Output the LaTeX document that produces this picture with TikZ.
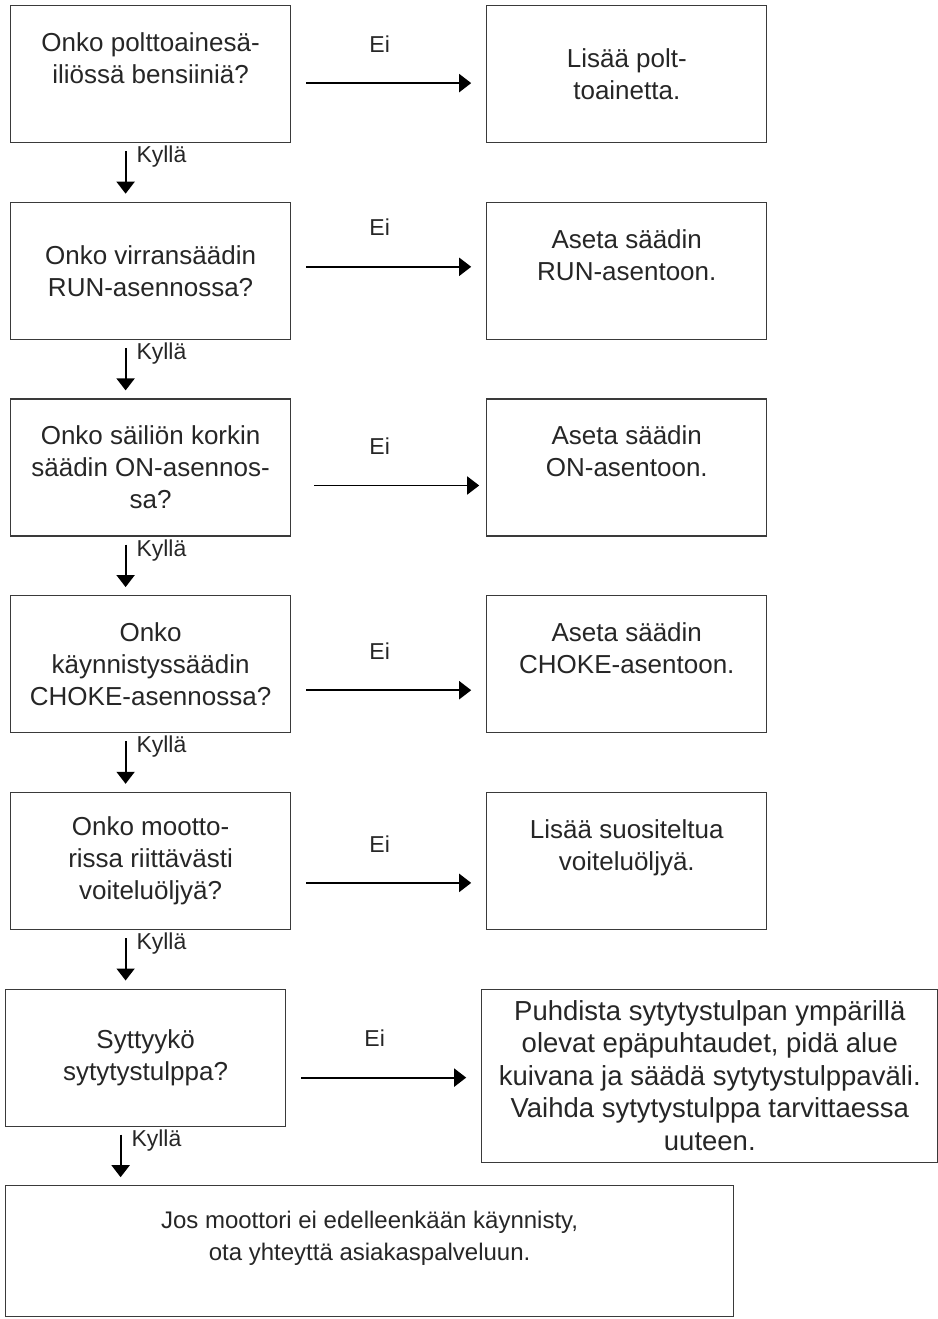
\documentclass[tikz,border=0pt]{standalone}
\usepackage{fontspec}
\setmainfont{Liberation Sans}
\usetikzlibrary{
  arrows.meta,
  positioning
}
\definecolor{FlowLine}{HTML}{3A3A3A}
\definecolor{FlowText}{HTML}{262626}

\begin{document}
\begin{tikzpicture}[
  x=1pt,y=1pt,
  node distance=58.5pt and 195pt,
  every node/.style={text=FlowText},
  box/.style={draw=FlowLine,line width=1.2pt,align=center,
    minimum width=280pt,minimum height=137pt,inner sep=0pt,
    font=\fontsize{26}{32}\selectfont},
  ask/.style={box},
  fix/.style={box},
  arrow/.style={-{Triangle[length=12pt,width=18pt]},line width=1.8pt,
    color=black},
  eilabel/.style={midway,above=28pt,xshift=-9pt,inner sep=2pt,
    font=\fontsize{23}{26}\selectfont},
  yeslabel/.style={at start,anchor=north west,inner sep=2pt,xshift=8pt,
    font=\fontsize{23}{26}\selectfont}
]
\useasboundingbox (0,0) rectangle (937,-1319);

\node[ask,anchor=north west] (q1) at (10,-5)
  {Onko polttoainesä-\\iliössä bensiiniä?\\\mbox{}};
\node[ask,below=of q1] (q2) {Onko virransäädin\\RUN-asennossa?};
\node[ask,below=of q2] (q3) {Onko säiliön korkin\\säädin ON-asennos-\\sa?};
\node[ask,below=of q3] (q4) {Onko\\käynnistyssäädin\\CHOKE-asennossa?};
\node[ask,below=of q4] (q5) {Onko mootto-\\rissa riittävästi\\voiteluöljyä?};
\node[ask,below=of q5,xshift=-5pt] (q6) {Syttyykö\\sytytystulppa?};
\node[box,below=of q6.south west,anchor=north west,minimum width=728pt,
  minimum height=131pt,font=\fontsize{24}{32}\selectfont] (end)
  {Jos moottori ei edelleenkään käynnisty,\\ota yhteyttä asiakaspalveluun.
   \\\mbox{}};

\node[fix,below right=0pt and 195pt of q1.north east] (a1)
  {Lisää polt-\\toainetta.};
\node[fix,below right=0pt and 195pt of q2.north east] (a2)
  {Aseta säädin\\RUN-asentoon.\\\mbox{}};
\node[fix,below right=0pt and 195pt of q3.north east] (a3)
  {Aseta säädin\\ON-asentoon.\\\mbox{}};
\node[fix,below right=0pt and 195pt of q4.north east] (a4)
  {Aseta säädin\\CHOKE-asentoon.\\\mbox{}};
\node[fix,below right=0pt and 195pt of q5.north east] (a5)
  {Lisää suositeltua\\voiteluöljyä.\\\mbox{}};
\node[fix,below right=0pt and 195pt of q6.north east,minimum width=456pt,
  minimum height=173pt,font=\fontsize{27.5}{32.5}\selectfont] (a6)
  {Puhdista sytytystulpan ympärillä\\olevat epäpuhtaudet, pidä alue\\
   kuivana ja säädä sytytystulppaväli.\\Vaihda sytytystulppa tarvittaessa\\
   uuteen.};

% Ei
\draw[arrow,shorten <=15pt,shorten >=15pt] ([yshift=-9pt]q1.east)
  -- ([yshift=-9pt]q1.east -| a1.west) node[eilabel] {Ei};
\draw[arrow,shorten <=15pt,shorten >=15pt] ([yshift=4pt]q2.east)
  -- ([yshift=4pt]q2.east -| a2.west) node[eilabel] {Ei};
\draw[arrow,shorten <=23pt,shorten >=7pt] ([yshift=-18pt]q3.east)
  -- ([yshift=-18pt]q3.east -| a3.west) node[eilabel] {Ei};
\draw[arrow,shorten <=15pt,shorten >=15pt] ([yshift=-26pt]q4.east)
  -- ([yshift=-26pt]q4.east -| a4.west) node[eilabel] {Ei};
\draw[arrow,shorten <=15pt,shorten >=15pt] ([yshift=-22pt]q5.east)
  -- ([yshift=-22pt]q5.east -| a5.west) node[eilabel] {Ei};
\draw[arrow,shorten <=15pt,shorten >=15pt] ([yshift=-20pt]q6.east)
  -- ([yshift=-20pt]q6.east -| a6.west) node[eilabel] {Ei};

% Kyllä
\draw[arrow,shorten <=8pt,shorten >=8pt] ([xshift=-25pt]q1.south)
  -- ([xshift=-25pt]q1.south |- q2.north) node[yeslabel] {Kyllä};
\draw[arrow,shorten <=8pt,shorten >=8pt] ([xshift=-25pt]q2.south)
  -- ([xshift=-25pt]q2.south |- q3.north) node[yeslabel] {Kyllä};
\draw[arrow,shorten <=8pt,shorten >=8pt] ([xshift=-25pt]q3.south)
  -- ([xshift=-25pt]q3.south |- q4.north) node[yeslabel] {Kyllä};
\draw[arrow,shorten <=8pt,shorten >=8pt] ([xshift=-25pt]q4.south)
  -- ([xshift=-25pt]q4.south |- q5.north) node[yeslabel] {Kyllä};
\draw[arrow,shorten <=8pt,shorten >=8pt] ([xshift=-25pt]q5.south)
  -- ([xshift=-25pt]q5.south |- q6.north) node[yeslabel] {Kyllä};
\draw[arrow,shorten <=8pt,shorten >=8pt] ([xshift=-25pt]q6.south)
  -- ([xshift=-25pt]q6.south |- end.north) node[yeslabel] {Kyllä};
\end{tikzpicture}
\end{document}
